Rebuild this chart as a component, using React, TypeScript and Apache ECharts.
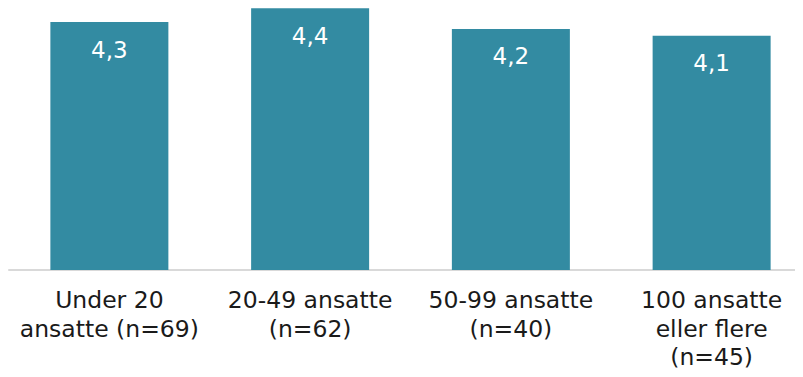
import React, { useEffect, useRef } from "react";
import * as echarts from "echarts";

const categories = [
  "Under 20\nansatte (n=69)",
  "20-49 ansatte\n(n=62)",
  "50-99 ansatte\n(n=40)",
  "100 ansatte\neller flere\n(n=45)",
];
const values = [4.26, 4.44, 4.17, 4.08];

export default function App() {
  const ref = useRef<HTMLDivElement>(null);
  useEffect(() => {
    const chart = echarts.init(ref.current!, null, { renderer: "svg" });
    chart.setOption({
      animation: false,
      grid: { left: 9, width: 803, top: 0, bottom: 107 },
      xAxis: {
        type: "category",
        data: categories,
        axisLine: { show: true, lineStyle: { color: "#d9d9d9", width: 2 } },
        axisTick: { show: false },
        axisLabel: {
          interval: 0,
          color: "#1a1a1a",
          fontFamily: "DejaVu Sans",
          fontSize: 23.5,
          lineHeight: 28.5,
          margin: 16,
        },
      },
      yAxis: {
        type: "value",
        min: 1,
        max: 4.55,
        show: false,
        splitLine: { show: false },
      },
      series: [
        {
          type: "bar",
          data: values,
          barWidth: 118,
          itemStyle: { color: "#338ba2" },
          label: {
            show: true,
            position: "insideTop",
            distance: 16,
            color: "#ffffff",
            fontFamily: "DejaVu Sans",
            fontSize: 23,
            formatter: (p: any) => p.value.toFixed(1).replace(".", ","),
          },
        },
      ],
    });
    return () => chart.dispose();
  }, []);
  return (
    <div style={{ width: 803, height: 377, margin: -8, overflow: "hidden" }}>
      <div ref={ref} style={{ width: 830, height: 377 }} />
    </div>
  );
}
